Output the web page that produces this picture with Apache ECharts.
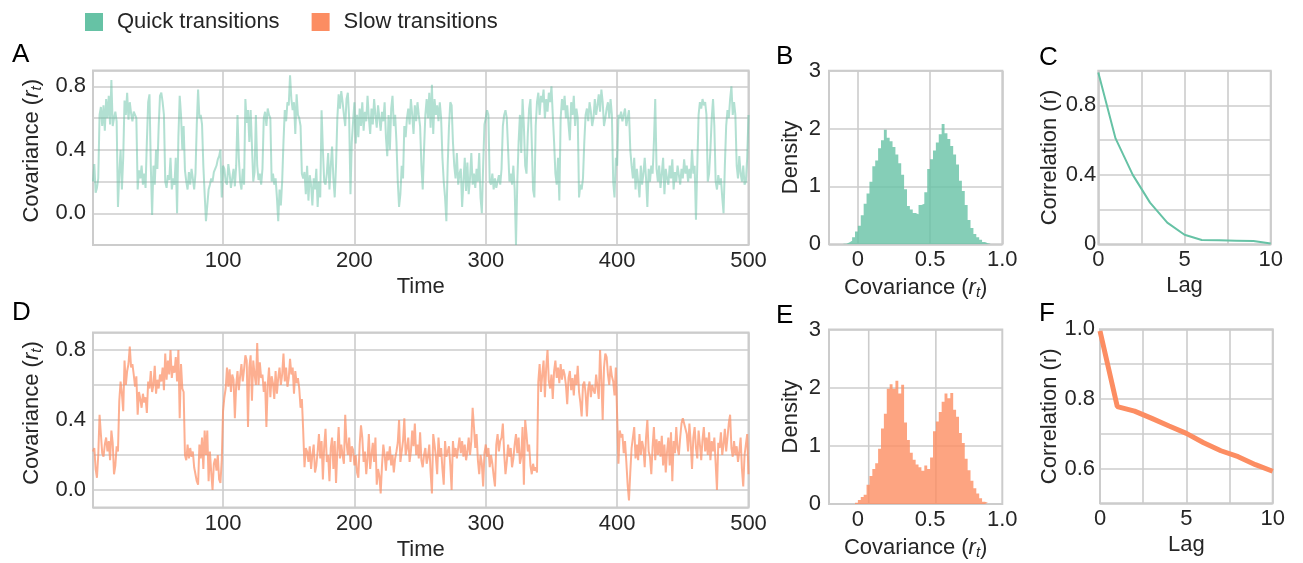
<!DOCTYPE html>
<html><head><meta charset="utf-8">
<script src="https://cdn.jsdelivr.net/npm/echarts@6/dist/echarts.min.js"></script>
<style>html,body{margin:0;padding:0;background:#fff}#c{width:1303px;height:563px}</style>
</head><body><div id="c"></div>
<script>
// ---------------- data ----------------
const quickSeries = [
0.20,0.31,0.13,0.16,0.22,0.62,0.67,0.55,0.68,0.52,
0.72,0.60,0.74,0.56,0.84,0.55,0.60,0.64,0.58,0.04,
0.25,0.40,0.15,0.35,0.71,0.62,0.76,0.59,0.70,0.63,
0.58,0.64,0.62,0.60,0.15,0.27,0.22,0.30,0.18,0.25,
0.16,0.45,0.70,0.75,0.30,-0.01,0.30,0.18,0.40,0.28,
0.55,0.74,0.76,0.70,0.62,0.20,0.16,0.24,0.21,0.35,
0.15,0.22,0.18,0.35,0.00,0.48,0.74,0.62,0.40,0.55,
0.27,0.20,0.15,0.26,0.18,0.28,0.22,0.15,0.25,0.56,
0.78,0.60,0.62,0.56,0.30,0.12,-0.05,0.05,0.15,0.18,
0.22,0.20,0.26,0.28,0.30,0.34,0.36,0.40,0.10,0.30,
0.28,0.20,0.18,0.31,0.25,0.16,0.22,0.28,0.17,0.30,
0.62,0.35,0.20,0.15,0.28,0.18,0.72,0.57,0.65,0.45,
0.65,0.64,0.20,0.26,0.62,0.30,0.21,0.25,0.18,0.28,
0.60,0.64,0.55,0.66,0.62,0.60,0.20,0.25,0.18,0.22,
0.10,-0.05,0.15,0.05,0.20,0.45,0.65,0.58,0.70,0.68,
0.87,0.72,0.65,0.70,0.50,0.75,0.62,0.60,0.55,0.25,
0.22,0.26,0.12,0.30,0.08,0.24,0.18,0.05,0.22,0.15,
0.28,0.04,0.20,0.10,0.65,0.40,0.20,0.18,0.25,0.38,
0.15,0.30,0.42,0.22,0.10,0.30,0.60,0.75,0.66,0.77,
0.70,0.62,0.55,0.72,0.76,0.60,0.12,0.45,0.58,0.70,
0.44,0.62,0.48,0.66,0.55,0.70,0.52,0.64,0.58,0.74,
0.60,0.50,0.66,0.56,0.72,0.62,0.54,0.68,0.60,0.52,
0.64,0.58,0.70,0.48,0.36,0.62,0.40,0.66,0.74,0.55,
0.62,0.45,0.20,0.04,0.12,0.30,0.22,0.55,0.48,0.60,
0.66,0.56,0.72,0.62,0.50,0.68,0.58,0.70,0.62,0.55,
0.30,0.15,0.40,0.62,0.72,0.60,0.76,0.54,0.81,0.50,
0.72,0.62,0.68,0.58,0.70,0.60,0.35,0.20,0.10,-0.05,
0.30,0.55,0.70,0.68,0.45,0.30,0.22,0.38,0.18,0.25,
0.28,0.04,0.20,0.35,0.14,0.32,0.12,0.22,0.38,0.18,
0.25,0.16,0.28,0.20,0.38,0.10,0.00,0.30,0.56,0.60,
0.65,0.62,0.20,0.18,0.25,0.15,0.22,0.16,0.20,0.24,
0.18,0.28,0.55,0.62,0.65,0.60,0.40,0.20,0.25,0.18,
0.30,0.15,-0.20,0.20,0.45,0.62,0.38,0.72,0.55,0.30,
0.25,0.50,0.66,0.72,0.45,0.15,0.10,0.55,0.70,0.76,
0.62,0.74,0.70,0.78,0.60,0.72,0.64,0.76,0.70,0.80,
0.62,0.45,0.25,0.18,0.35,0.08,0.60,0.72,0.65,0.74,
0.60,0.68,0.56,0.46,0.70,0.62,0.74,0.55,0.66,0.60,
0.10,0.18,0.15,0.22,0.45,0.62,0.66,0.58,0.70,0.64,
0.55,0.60,0.72,0.62,0.68,0.75,0.64,0.78,0.70,0.55,
0.60,0.66,0.70,0.60,0.72,0.62,0.20,0.10,0.35,0.30,
0.62,0.60,0.64,0.58,0.62,0.66,0.55,0.60,0.65,0.40,
0.30,0.22,0.35,0.15,0.28,0.20,0.10,0.30,0.18,0.25,
0.35,0.22,0.04,0.28,0.20,0.30,0.25,0.45,0.72,0.28,
0.20,0.30,0.16,0.25,0.35,0.12,0.28,0.22,0.18,0.30,
0.22,0.34,0.15,0.26,0.20,0.30,0.24,0.18,0.28,0.22,
0.34,0.25,0.30,0.20,0.28,0.22,0.40,0.25,0.30,-0.04,
0.30,0.62,0.70,0.66,0.72,0.68,0.70,0.62,0.20,0.25,
0.40,0.60,0.72,0.55,0.20,0.15,0.24,0.18,0.22,0.10,
0.00,0.30,0.55,0.65,0.60,0.72,0.80,0.62,0.70,0.62,
0.30,0.22,0.36,0.25,0.20,0.30,0.18,0.20,0.35,0.62
];
const slowSeries = [
0.22,0.24,0.12,0.07,0.20,0.43,0.32,0.21,0.19,0.26,
0.30,0.22,0.28,0.17,0.34,0.27,0.09,0.14,0.25,0.22,
0.51,0.62,0.55,0.45,0.74,0.60,0.68,0.72,0.82,0.70,
0.72,0.66,0.59,0.65,0.43,0.56,0.52,0.47,0.55,0.50,
0.53,0.44,0.62,0.58,0.68,0.56,0.60,0.71,0.55,0.63,
0.58,0.66,0.62,0.70,0.57,0.78,0.63,0.74,0.66,0.80,
0.64,0.71,0.67,0.76,0.62,0.80,0.41,0.72,0.58,0.56,
0.20,0.17,0.26,0.18,0.24,0.19,0.22,0.13,0.09,0.05,
0.03,0.26,0.18,0.30,0.12,0.34,0.20,0.34,0.05,0.22,
0.10,0.00,0.15,0.18,0.11,0.20,0.06,0.04,0.17,0.45,
0.53,0.58,0.70,0.59,0.69,0.56,0.66,0.63,0.41,0.60,
0.68,0.57,0.65,0.72,0.62,0.69,0.77,0.74,0.36,0.70,
0.77,0.51,0.74,0.66,0.60,0.84,0.60,0.73,0.64,0.66,
0.56,0.62,0.36,0.60,0.70,0.53,0.65,0.61,0.52,0.68,
0.55,0.64,0.70,0.60,0.66,0.78,0.62,0.70,0.59,0.64,
0.75,0.66,0.70,0.55,0.68,0.61,0.64,0.58,0.47,0.52,
0.34,0.13,0.24,0.22,0.16,0.25,0.12,0.20,0.26,0.10,
0.14,0.22,0.32,0.18,0.28,0.06,0.25,0.35,0.16,0.20,
0.05,0.24,0.30,0.12,0.28,0.04,0.22,0.36,0.18,0.26,
0.20,0.15,0.43,0.27,0.20,0.30,0.16,0.25,0.23,0.14,
0.20,0.10,0.07,0.26,0.37,0.30,0.16,0.22,0.09,0.18,
0.32,0.12,0.20,0.27,0.16,0.30,0.03,0.12,0.08,-0.02,
0.14,0.26,0.20,0.11,0.22,0.17,0.25,0.14,0.20,0.10,
0.18,0.22,0.27,0.40,0.16,0.22,0.28,0.41,0.20,0.24,
0.30,0.16,0.22,0.34,0.25,0.38,0.20,0.26,0.18,0.33,
0.17,0.13,0.20,0.24,0.15,0.19,0.26,0.10,-0.02,0.32,
0.26,0.19,0.09,0.30,0.19,0.24,0.12,0.03,0.28,0.19,
0.22,0.25,0.14,0.00,0.28,0.19,0.24,0.18,0.19,0.30,
0.21,0.28,0.19,0.26,0.17,0.22,0.30,0.20,0.28,0.47,
0.36,0.24,0.32,0.17,0.09,0.20,0.15,0.02,0.21,0.26,
0.19,0.24,0.13,0.20,0.15,0.08,0.02,0.26,0.32,0.22,
0.28,0.30,0.38,0.21,0.09,0.16,0.26,0.19,0.24,0.13,
0.18,0.26,0.32,0.21,0.30,0.15,0.19,0.36,0.03,0.40,
0.32,0.22,0.26,0.14,0.09,0.15,0.11,0.13,0.10,0.62,
0.72,0.56,0.66,0.74,0.53,0.70,0.80,0.62,0.58,0.66,
0.52,0.68,0.74,0.64,0.70,0.61,0.72,0.63,0.69,0.66,
0.60,0.49,0.64,0.68,0.57,0.64,0.54,0.66,0.60,0.71,
0.56,0.50,0.42,0.60,0.62,0.55,0.42,0.58,0.62,0.53,
0.60,0.57,0.55,0.66,0.59,0.52,0.80,0.63,0.40,0.70,
0.78,0.76,0.66,0.60,0.71,0.65,0.62,0.54,0.70,0.69,
0.15,0.34,0.30,0.32,0.21,0.28,0.16,0.03,-0.06,0.10,
0.24,0.30,0.36,0.18,0.26,0.17,0.32,0.20,0.28,0.24,
0.13,0.30,0.40,0.22,0.19,0.09,0.25,0.36,0.17,0.29,
0.20,0.28,0.19,0.31,0.14,0.26,0.10,0.22,0.30,0.14,
0.33,0.05,0.28,0.21,0.36,0.24,0.20,0.30,0.38,0.41,
0.40,0.35,0.32,0.22,0.38,0.27,0.12,0.30,0.36,0.24,
0.18,0.34,0.26,0.17,0.29,0.36,0.22,0.30,0.20,0.33,
0.17,0.28,0.22,0.30,0.15,0.00,0.27,0.24,0.33,0.20,
0.26,0.35,0.22,0.30,0.38,0.43,0.24,0.19,0.28,0.20,
0.25,0.16,0.22,0.30,0.12,0.02,0.20,0.26,0.32,0.09
];
const histBinWidth = 0.02;
const quickBinStart = -0.10;
const quickDensity = [
0.01,0.03,0.06,0.12,0.22,0.32,0.50,0.70,0.88,1.08,
1.35,1.45,1.66,1.80,1.98,1.84,1.78,1.68,1.55,1.40,
1.20,0.95,0.66,0.60,0.54,0.52,0.68,0.70,0.90,1.30,
1.47,1.62,1.76,1.90,2.08,1.92,1.82,1.70,1.55,1.38,
1.10,0.92,0.68,0.42,0.28,0.18,0.12,0.08,0.04,0.02,0.01];
const slowBinStart = -0.02;
const slowDensity = [
0.02,0.07,0.12,0.16,0.33,0.48,0.60,0.70,0.95,1.30,
1.55,1.98,2.06,1.98,2.12,1.90,2.05,1.40,1.10,0.88,
0.76,0.68,0.63,0.57,0.66,0.60,0.80,1.25,1.42,1.58,
1.76,1.90,1.82,1.91,1.62,1.50,1.22,1.05,0.78,0.58,
0.40,0.27,0.18,0.10,0.04,0.02];
const lags = [0,1,2,3,4,5,6,7,8,9,10];
const quickAutocorr = [0.99,0.61,0.40,0.24,0.125,0.055,0.025,0.023,0.021,0.019,0.004];
const slowAutocorr = [0.995,0.778,0.765,0.744,0.722,0.701,0.674,0.651,0.634,0.611,0.592];
const timeLabels = ['100','200','300','400','500'];
const legendNames = ['Quick transitions','Slow transitions'];
const panelLetters = ['A','B','C','D','E','F'];
// ---------------------------------------

const TEAL = '#66c2a5', ORANGE = '#fc8d62';
const FONT = '"Liberation Sans", Arial, Helvetica, sans-serif';
const TXT = '#262626';
const FS = 22;

const pairs = (ys, x0) => ys.map((v, i) => [x0 + i, v]);
function histData(start, dens) {
  const d = dens.map((h, i) => [+(start + i * histBinWidth).toFixed(4), h]);
  d.push([+(start + dens.length * histBinWidth).toFixed(4), 0]);
  return d;
}
const near = (a, b) => Math.abs(a - b) < 1e-6;

const gridBase = {show: true, borderColor: '#cccccc', borderWidth: 2, backgroundColor: 'transparent', containLabel: false};
const grids = [
  Object.assign({left: 93, top: 70.5, width: 655.5, height: 174.5}, gridBase),
  Object.assign({left: 829, top: 70.7, width: 173.3, height: 173.6}, gridBase),
  Object.assign({left: 1098.3, top: 70.7, width: 172.4, height: 173.6}, gridBase),
  Object.assign({left: 93, top: 332.5, width: 655.5, height: 175}, gridBase),
  Object.assign({left: 829, top: 329.5, width: 173.3, height: 174.5}, gridBase),
  Object.assign({left: 1100, top: 329.3, width: 172.7, height: 174}, gridBase)
];

const covName = 'Covariance ({i|r}{s|t})';
const nameStyle = {fontSize: FS, color: TXT, fontFamily: FONT,
  rich: {i: {fontSize: FS, fontStyle: 'italic', color: TXT, fontFamily: FONT},
         s: {fontSize: 15, fontStyle: 'italic', color: TXT, fontFamily: FONT, padding: [10, 0, 0, 0]}}};
const covYNameStyle = Object.assign({}, nameStyle, {padding: [0, 0, 0, 14]});

function ax(extra) {
  return Object.assign({
    type: 'value',
    axisLine: {show: false}, axisTick: {show: false},
    splitLine: {show: true, lineStyle: {color: '#cccccc', width: 1.6}},
    axisLabel: {color: TXT, fontSize: FS, fontFamily: FONT, margin: 5},
    nameLocation: 'middle', nameTextStyle: nameStyle
  }, extra);
}
const lab = (margin, formatter) => ({color: TXT, fontSize: FS, fontFamily: FONT, margin: margin, formatter: formatter});
const timeFmt = v => timeLabels.indexOf(String(Math.round(v))) >= 0 && near(v, Math.round(v)) ? String(Math.round(v)) : '';
const covXFmt = v => near(v, 0) ? '0' : near(v, 0.5) ? '0.5' : near(v, 1) ? '1.0' : '';
const lagFmt = v => (near(v, 0) || near(v, 5) || near(v, 10)) ? String(Math.round(v)) : '';
const covYFmt = v => (near(v, 0) || near(v, 0.4) || near(v, 0.8)) ? v.toFixed(1) : '';

const XGAP = 31;
const xAxes = [
  ax({gridIndex: 0, min: 1, max: 500, splitNumber: 5, name: 'Time', nameGap: XGAP, axisLabel: lab(5, timeFmt)}),
  ax({gridIndex: 1, min: -0.2, max: 1.0, splitNumber: 2, name: covName, nameGap: XGAP, axisLabel: lab(5, covXFmt)}),
  ax({gridIndex: 2, min: 0, max: 10, interval: 2.5, name: 'Lag', nameGap: XGAP, axisLabel: lab(5, lagFmt)}),
  ax({gridIndex: 3, min: 1, max: 500, splitNumber: 5, name: 'Time', nameGap: XGAP, axisLabel: lab(5, timeFmt)}),
  ax({gridIndex: 4, min: -0.2, max: 1.0, splitNumber: 2, name: covName, nameGap: XGAP, splitLine: {show: false}, axisLabel: lab(5, covXFmt)}),
  ax({gridIndex: 5, min: 0, max: 10, interval: 2.5, name: 'Lag', nameGap: XGAP, axisLabel: lab(5, lagFmt)})
];
const yAxes = [
  ax({gridIndex: 0, min: -0.2, max: 0.9, interval: 0.2, name: covName, nameGap: 47, nameTextStyle: covYNameStyle, axisLabel: lab(7, covYFmt)}),
  ax({gridIndex: 1, min: 0, max: 3, interval: 1, name: 'Density', nameGap: 27, axisLabel: lab(8)}),
  ax({gridIndex: 2, min: 0, max: 1, interval: 0.2, name: 'Correlation (r)', nameGap: 37,
      axisLabel: lab(2, v => near(v, 0) ? '0' : (near(v, 0.4) || near(v, 0.8)) ? v.toFixed(1) : '')}),
  ax({gridIndex: 3, min: -0.1, max: 0.9, splitNumber: 5, name: covName, nameGap: 47, nameTextStyle: covYNameStyle, axisLabel: lab(7, covYFmt)}),
  ax({gridIndex: 4, min: 0, max: 3, interval: 1, name: 'Density', nameGap: 27, axisLabel: lab(8)}),
  ax({gridIndex: 5, min: 0.5, max: 1.0, interval: 0.1, name: 'Correlation (r)', nameGap: 39,
      axisLabel: lab(5, v => (near(v, 0.6) || near(v, 0.8) || near(v, 1.0)) ? v.toFixed(1) : '')})
];

const eGridLines = [[0.075, 0], [0.54, 0]];

const series = [
  {name: legendNames[0], type: 'line', xAxisIndex: 0, yAxisIndex: 0, data: pairs(quickSeries, 1), showSymbol: false, symbol: 'none',
   lineStyle: {color: TEAL, width: 2, opacity: 0.5}, itemStyle: {color: TEAL}, z: 3, silent: true},
  {name: legendNames[0], type: 'line', xAxisIndex: 1, yAxisIndex: 1, data: histData(quickBinStart, quickDensity), step: 'end', showSymbol: false, symbol: 'none',
   lineStyle: {width: 0, opacity: 0}, areaStyle: {color: TEAL, opacity: 0.8}, itemStyle: {color: TEAL}, z: 3, silent: true},
  {name: legendNames[0], type: 'line', xAxisIndex: 2, yAxisIndex: 2, data: lags.map((l, i) => [l, quickAutocorr[i]]), showSymbol: false, symbol: 'none',
   lineStyle: {color: TEAL, width: 2}, itemStyle: {color: TEAL}, z: 3, silent: true},
  {name: legendNames[1], type: 'line', xAxisIndex: 3, yAxisIndex: 3, data: pairs(slowSeries, 1), showSymbol: false, symbol: 'none',
   lineStyle: {color: ORANGE, width: 2, opacity: 0.7}, itemStyle: {color: ORANGE}, z: 3, silent: true},
  {type: 'custom', xAxisIndex: 4, yAxisIndex: 4, data: eGridLines, encode: {x: 0, y: 1}, z: 1, silent: true,
   renderItem: (p, api) => {
     const a = api.coord([api.value(0), 0]); const b = api.coord([api.value(0), 3]);
     return {type: 'line', shape: {x1: a[0], y1: a[1], x2: b[0], y2: b[1]}, style: {stroke: '#cccccc', lineWidth: 1.6}};
   }},
  {name: legendNames[1], type: 'line', xAxisIndex: 4, yAxisIndex: 4, data: histData(slowBinStart, slowDensity), step: 'end', showSymbol: false, symbol: 'none',
   lineStyle: {width: 0, opacity: 0}, areaStyle: {color: ORANGE, opacity: 0.8}, itemStyle: {color: ORANGE}, z: 3, silent: true},
  {name: legendNames[1], type: 'line', xAxisIndex: 5, yAxisIndex: 5, data: lags.map((l, i) => [l, slowAutocorr[i]]), showSymbol: false, symbol: 'none',
   lineStyle: {color: ORANGE, width: 5}, itemStyle: {color: ORANGE}, z: 3, silent: true}
];

const letterPos = [[12, 56], [776, 58], [1039, 59], [12, 314], [776, 317], [1039, 315]];
const graphics = panelLetters.map((t, i) => ({type: 'text', left: letterPos[i][0], top: letterPos[i][1] - 14,
  style: {text: t, font: '26px ' + FONT, fill: '#000'}}));

const chart = echarts.init(document.getElementById('c'), null, {renderer: 'canvas'});
chart.setOption({
  animation: false,
  backgroundColor: '#ffffff',
  textStyle: {fontFamily: FONT},
  legend: {left: 80, top: 6, itemWidth: 18, itemHeight: 18, itemGap: 32, icon: 'rect', selectedMode: false,
    textStyle: {fontSize: 22, color: TXT, fontFamily: FONT, padding: [0, 0, 0, 9]},
    data: [{name: legendNames[0], itemStyle: {color: TEAL, opacity: 1}}, {name: legendNames[1], itemStyle: {color: ORANGE, opacity: 1}}]},
  grid: grids, xAxis: xAxes, yAxis: yAxes, series: series, graphic: graphics
});
</script></body></html>
